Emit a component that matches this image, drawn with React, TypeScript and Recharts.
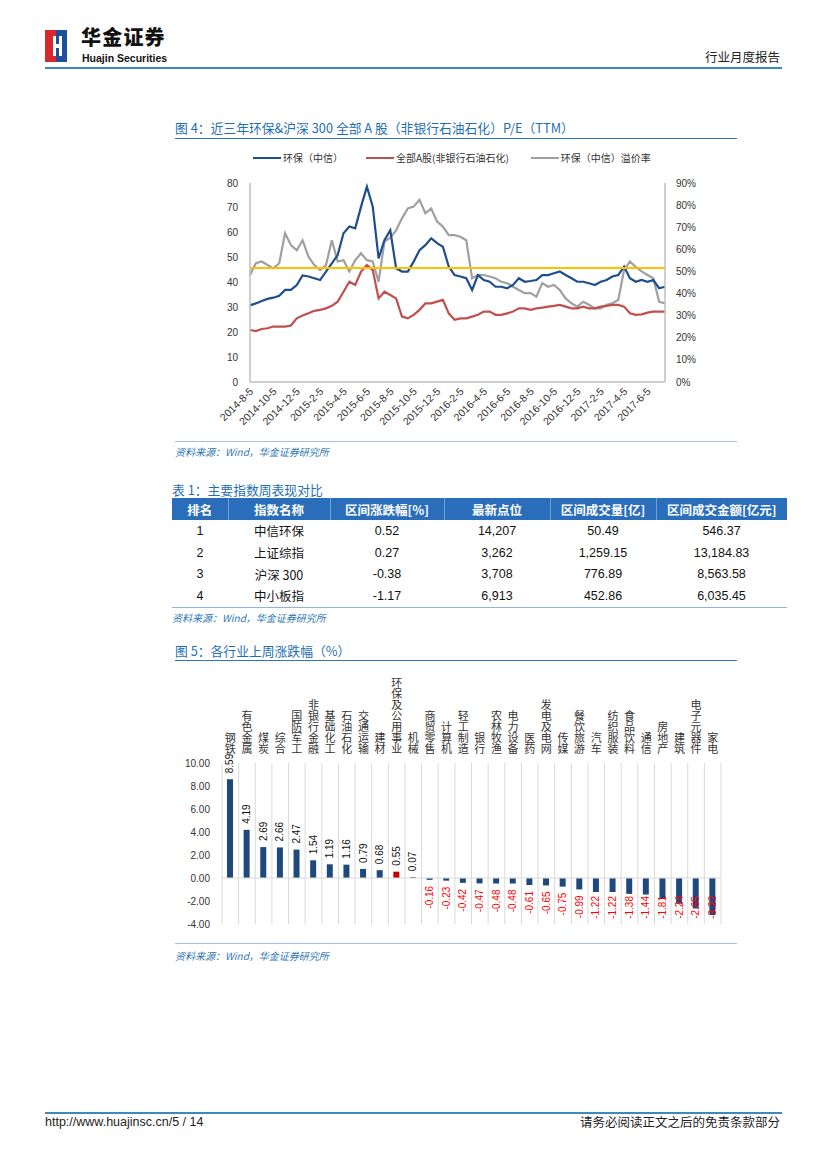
import React from 'react';
import {
  LineChart,
  Line,
  XAxis,
  YAxis,
  ReferenceLine,
  BarChart,
  Bar,
  Cell,
  CartesianGrid,
  LabelList,
} from 'recharts';

const FONT = '"Liberation Sans", "Noto Sans CJK SC", sans-serif';
const CJK = '"Noto Sans CJK SC", "Liberation Sans", sans-serif';

// ---- Figure 4: P/E (TTM), semi-monthly samples from 2014-8-5 ----
const peTickLabels = [
  '2014-8-5', '2014-10-5', '2014-12-5', '2015-2-5', '2015-4-5', '2015-6-5',
  '2015-8-5', '2015-10-5', '2015-12-5', '2016-2-5', '2016-4-5', '2016-6-5',
  '2016-8-5', '2016-10-5', '2016-12-5', '2017-2-5', '2017-4-5', '2017-6-5',
];

// 环保（中信）
const peEnv = [
  30.8, 31.6, 32.6, 33.4, 33.9, 34.7, 37.0, 37.0, 39.0, 42.8,
  42.4, 41.7, 41.0, 44.4, 47.7, 51.0, 59.8, 62.5, 61.8, 70.5,
  78.5, 70.5, 49.7, 57.0, 61.0, 45.7, 44.4, 44.4, 48.4, 53.0,
  55.0, 57.8, 55.8, 54.4, 46.4, 43.0, 42.4, 41.7, 37.0, 43.0,
  41.0, 40.3, 38.3, 38.3, 37.7, 39.0, 41.7, 40.3, 40.6, 41.0,
  43.0, 43.0, 43.7, 44.4, 43.0, 41.7, 40.3, 40.3, 39.7, 39.0,
  40.3, 41.0, 42.4, 43.0, 46.4, 41.7, 40.3, 41.0, 40.3, 41.0,
  37.7, 38.3,
];

// 全部A股(非银行石油石化)
const peAll = [
  20.9, 20.5, 21.3, 21.6, 22.3, 22.3, 22.3, 22.7, 25.6, 26.7,
  27.6, 28.6, 29.0, 29.6, 30.6, 32.3, 36.3, 40.3, 39.0, 44.4,
  47.0, 45.0, 33.6, 36.3, 35.0, 33.6, 26.3, 25.6, 27.0, 29.0,
  31.6, 31.6, 32.3, 33.0, 27.6, 25.0, 25.6, 25.6, 26.3, 27.0,
  28.3, 28.3, 27.0, 27.0, 27.6, 28.3, 29.6, 29.6, 29.0, 29.6,
  29.9, 30.3, 30.6, 31.0, 30.3, 29.6, 29.6, 30.3, 29.6, 29.6,
  30.3, 30.6, 31.0, 31.0, 30.3, 27.6, 27.0, 27.2, 27.9, 28.3,
  28.3, 28.3,
];

// 环保（中信）溢价率, %
const pePremium = [
  48.4, 53.7, 54.5, 52.9, 51.4, 53.7, 67.3, 61.9, 59.6, 64.1,
  56.7, 52.9, 50.6, 52.9, 64.1, 54.5, 55.1, 50.0, 55.1, 58.2,
  55.1, 54.5, 45.3, 63.5, 65.3, 68.6, 74.0, 78.5, 79.3, 82.4,
  76.3, 78.5, 72.6, 70.3, 66.4, 66.4, 65.7, 64.1, 46.9, 48.4,
  48.4, 47.7, 46.9, 45.3, 44.7, 43.1, 41.6, 40.2, 40.2, 38.6,
  44.7, 43.1, 43.9, 41.6, 37.8, 35.6, 34.1, 36.3, 34.9, 33.3,
  33.3, 34.9, 35.6, 37.1, 50.6, 54.5, 52.0, 50.0, 48.4, 46.9,
  36.3, 35.6,
];

const premiumAvg = 51.6;
const peLeftTicks = [0, 10, 20, 30, 40, 50, 60, 70, 80];
const peRightTicks = [0, 10, 20, 30, 40, 50, 60, 70, 80, 90];

const peSeries = [
  { key: 'env', name: '环保（中信）', color: '#1F4E8C' },
  { key: 'all', name: '全部A股(非银行石油石化)', color: '#C0504D' },
  { key: 'prem', name: '环保（中信）溢价率', color: '#A0A0A0' },
];

// ---- Table 1 ----
const tblHeads = ['排名', '指数名称', '区间涨跌幅[%]', '最新点位', '区间成交量[亿]', '区间成交金额[亿元]'];
const tblRanks = ['1', '2', '3', '4'];
const tblNames = ['中信环保', '上证综指', '沪深 300', '中小板指'];
const tblChg = ['0.52', '0.27', '-0.38', '-1.17'];
const tblLast = ['14,207', '3,262', '3,708', '6,913'];
const tblVol = ['50.49', '1,259.15', '776.89', '452.86'];
const tblAmt = ['546.37', '13,184.83', '8,563.58', '6,035.45'];
const tblColW = [56, 102, 114, 106, 106, 131];

// ---- Figure 5: weekly change by industry ----
const industries = [
  '钢铁', '有色金属', '煤炭', '综合', '国防军工', '非银行金融', '基础化工', '石油石化',
  '交通运输', '建材', '环保及公用事业', '机械', '商贸零售', '计算机', '轻工制造', '银行',
  '农林牧渔', '电力设备', '医药', '发电及电网', '传媒', '餐饮旅游', '汽车', '纺织服装',
  '食品饮料', '通信', '房地产', '建筑', '电子元器件', '家电',
];
const industryChg = [
  8.59, 4.19, 2.69, 2.66, 2.47, 1.54, 1.19, 1.16, 0.79, 0.68,
  0.55, 0.07, -0.16, -0.23, -0.42, -0.47, -0.48, -0.48, -0.61, -0.65,
  -0.75, -0.99, -1.22, -1.22, -1.38, -1.44, -1.81, -2.24, -2.65, -3.22,
];
const highlightIndustry = '环保及公用事业';
const chgTicks = [-4, -2, 0, 2, 4, 6, 8, 10];

// chart boxes (page coordinates)
const LC = { left: 200, top: 175, w: 520, h: 280 };
const BC = { left: 160, top: 660, w: 571, h: 274, mb: 10 };

const peData = peEnv.map((v, i) => ({ i, env: v, all: peAll[i], prem: pePremium[i] }));
const chgData = industries.map((name, i) => ({ name, v: industryChg[i] }));

const DateTick = (props: any) => {
  const { x, y, payload } = props;
  const label = peTickLabels[payload.value / 4];
  if (!label) return null;
  const ax = x + 4;
  const ay = y + 2;
  return (
    <text x={ax} y={ay} transform={`rotate(-45 ${ax} ${ay})`} textAnchor="end" fontSize={10.5} fill="#333" fontFamily={FONT}>
      {label}
    </text>
  );
};

// stacked (vertical) category names above the plot
const IndustryTick = (props: any) => {
  const { x, y, payload } = props;
  return (
    <text
      x={x}
      y={y - 9}
      textAnchor="end"
      fontSize={11}
      fill="#333"
      fontFamily={CJK}
      style={{ writingMode: 'vertical-rl' } as React.CSSProperties}
    >
      {payload.value}
    </text>
  );
};

const ValueLabel = (props: any) => {
  const { x, y, width, height, value } = props;
  const top = Math.min(y, y + height);
  const bottom = Math.max(y, y + height);
  const txt = Number(value).toFixed(2);
  const cx = x + width / 2 + 3.5;
  const plotBottom = BC.h - BC.mb;
  let ay: number;
  let anchor: 'start' | 'end';
  if (value >= 0) {
    ay = top - 6;
    anchor = 'start';
  } else {
    ay = Math.min(bottom + 6, plotBottom - 3 - txt.length * 5);
    anchor = 'end';
  }
  return (
    <text
      x={cx}
      y={ay}
      transform={`rotate(-90 ${cx} ${ay})`}
      textAnchor={anchor}
      fontSize={10}
      fill={value >= 0 ? '#111' : '#FF0000'}
      fontFamily={FONT}
    >
      {txt}
    </text>
  );
};

const abs = (left: number, top: number, extra: React.CSSProperties = {}): React.CSSProperties => ({
  position: 'absolute',
  left,
  top,
  ...extra,
});

const rule = (left: number, top: number, width: number, color: string, h = 1) => (
  <div style={abs(left, top, { width, height: h, background: color })} />
);

const Title = ({ left, top, children }: { left: number; top: number; children: React.ReactNode }) => (
  <div style={abs(left, top, { fontFamily: CJK, fontSize: 12.8, color: '#1F6FB5', whiteSpace: 'nowrap', lineHeight: '15px' })}>
    {children}
  </div>
);

const Source = ({ left, top }: { left: number; top: number }) => (
  <div style={abs(left, top, { fontFamily: CJK, fontSize: 10, fontStyle: 'italic', color: '#2E75B6', whiteSpace: 'nowrap', lineHeight: '12px' })}>
    资料来源：Wind，华金证券研究所
  </div>
);

export default function App() {
  const tblRows = tblRanks.map((r, i) => [r, tblNames[i], tblChg[i], tblLast[i], tblVol[i], tblAmt[i]]);

  return (
    <div style={{ position: 'absolute', left: 0, top: 0, width: 827, height: 1169, background: '#fff', fontFamily: FONT, overflow: 'hidden' }}>
      {/* header */}
      <svg style={abs(45, 30)} width={22} height={32}>
        <rect x={0} y={0} width={11} height={32} fill="#D7282F" />
        <rect x={11} y={0} width={11} height={32} fill="#1D4F9C" />
        <path d="M8 6 L11 6 L11 14 L14 14 L14 6 L17 6 L17 26 L14 26 L14 18 L11 18 L11 26 L8 26 Z" fill="#fff" />
      </svg>
      <div style={abs(81, 26, { fontFamily: CJK, fontWeight: 900, fontSize: 20, lineHeight: '22px', color: '#111', letterSpacing: 1.2 })}>华金证券</div>
      <div style={abs(82, 53, { fontFamily: FONT, fontWeight: 700, fontSize: 10.5, lineHeight: '11px', color: '#111' })}>Huajin Securities</div>
      <div style={abs(705, 49, { fontFamily: CJK, fontSize: 12.5, lineHeight: '16px', color: '#222' })}>行业月度报告</div>
      {rule(45, 67, 737, '#3C88C0', 2)}

      {/* figure 4 */}
      <Title left={175} top={120}>图 4：近三年环保&amp;沪深 300 全部 A 股（非银行石油石化）P/E（TTM）</Title>
      {rule(175, 138, 562, '#2F75B5')}
      <div style={abs(253, 151, { display: 'flex', alignItems: 'center', fontFamily: CJK, fontSize: 10, color: '#333', whiteSpace: 'nowrap', lineHeight: '14px' })}>
        {peSeries.map((s, k) => (
          <div key={s.key} style={{ display: 'flex', alignItems: 'center', marginRight: k === 0 ? 23 : 22 }}>
            <div style={{ width: 28, height: 2.5, background: s.color, marginRight: 2 }} />
            <span>{s.name}</span>
          </div>
        ))}
      </div>
      <div style={abs(LC.left, LC.top)}>
        <LineChart width={LC.w} height={LC.h} data={peData} margin={{ top: 8, right: 10, bottom: 13, left: 10 }}>
          <XAxis
            dataKey="i"
            interval={3}
            height={60}
            tick={<DateTick />}
            tickLine={false}
            axisLine={{ stroke: '#BFBFBF', strokeWidth: 1.5 }}
          />
          <YAxis
            yAxisId="left"
            domain={[0, 80]}
            ticks={peLeftTicks}
            width={40}
            tickLine={false}
            tickMargin={6}
            axisLine={{ stroke: '#BFBFBF', strokeWidth: 1.5 }}
            tick={{ fontSize: 10, fill: '#333', fontFamily: FONT }}
          />
          <YAxis
            yAxisId="right"
            orientation="right"
            domain={[0, 90]}
            ticks={peRightTicks}
            width={45}
            tickLine={false}
            tickMargin={5}
            axisLine={{ stroke: '#BFBFBF', strokeWidth: 1.5 }}
            tickFormatter={(v) => `${v}%`}
            tick={{ fontSize: 10, fill: '#333', fontFamily: FONT }}
          />
          <Line yAxisId="right" dataKey="prem" stroke="#A0A0A0" strokeWidth={2.2} dot={false} isAnimationActive={false} />
          <Line yAxisId="left" dataKey="all" stroke="#C0504D" strokeWidth={2.2} dot={false} isAnimationActive={false} />
          <Line yAxisId="left" dataKey="env" stroke="#1F4E8C" strokeWidth={2.2} dot={false} isAnimationActive={false} />
          <ReferenceLine yAxisId="right" y={premiumAvg} stroke="#FFC000" strokeWidth={2} />
        </LineChart>
      </div>
      {rule(175, 441, 562, '#9DC3E6')}
      <Source left={175} top={446} />

      {/* table 1 */}
      <Title left={172} top={482}>表 1：主要指数周表现对比</Title>
      <table
        style={abs(172, 498, {
          width: 615,
          borderCollapse: 'collapse',
          tableLayout: 'fixed',
          fontFamily: FONT,
          fontSize: 12.5,
          color: '#111',
        })}
      >
        <colgroup>
          {tblColW.map((w, k) => (
            <col key={k} style={{ width: w }} />
          ))}
        </colgroup>
        <thead>
          <tr style={{ background: '#2A6EBB', color: '#fff', height: 22 }}>
            {tblHeads.map((h, k) => (
              <th
                key={h}
                style={{
                  padding: 0,
                  fontFamily: CJK,
                  fontWeight: 700,
                  fontSize: 12.5,
                  textAlign: 'center',
                  borderRight: k < tblHeads.length - 1 ? '1px solid rgba(255,255,255,0.35)' : 'none',
                }}
              >
                {h}
              </th>
            ))}
          </tr>
        </thead>
        <tbody>
          {tblRows.map((row, r) => (
            <tr key={r} style={{ height: 21.7 }}>
              {row.map((c, k) => (
                <td key={k} style={{ padding: 0, textAlign: 'center', fontFamily: k === 1 ? CJK : FONT }}>
                  {c}
                </td>
              ))}
            </tr>
          ))}
        </tbody>
      </table>
      {rule(172, 607, 615, '#8DB4E2')}
      <Source left={172} top={612} />

      {/* figure 5 */}
      <Title left={175} top={643}>图 5：各行业上周涨跌幅（%）</Title>
      {rule(175, 660, 562, '#2F75B5')}
      <div style={abs(BC.left, BC.top)}>
        <BarChart width={BC.w} height={BC.h} data={chgData} margin={{ top: 8, right: 10, bottom: BC.mb, left: 10 }}>
          <CartesianGrid
            horizontal={false}
            stroke="#D9D9D9"
            verticalCoordinatesGenerator={({ offset }: any) =>
              Array.from({ length: industries.length + 1 }, (_, k) => offset.left + (k * offset.width) / industries.length)
            }
          />
          <XAxis
            dataKey="name"
            orientation="top"
            height={95}
            interval={0}
            tickSize={0}
            tickMargin={0}
            axisLine={false}
            tick={<IndustryTick />}
          />
          <YAxis
            domain={[-4, 10]}
            ticks={chgTicks}
            width={52}
            tickSize={0}
            tickMargin={12}
            axisLine={false}
            tickLine={false}
            tickFormatter={(v) => Number(v).toFixed(2)}
            tick={{ fontSize: 10, fill: '#333', fontFamily: FONT }}
          />
          <ReferenceLine y={0} stroke="#D9D9D9" strokeWidth={1.2} />
          <Bar dataKey="v" barSize={6} isAnimationActive={false}>
            {chgData.map((d) => (
              <Cell key={d.name} fill={d.name === highlightIndustry ? '#C00000' : '#1F497D'} />
            ))}
            <LabelList dataKey="v" content={<ValueLabel />} />
          </Bar>
        </BarChart>
      </div>
      {rule(175, 943, 562, '#9DC3E6')}
      <Source left={175} top={950} />

      {/* footer */}
      {rule(45, 1112, 737, '#3C88C0', 2)}
      <div style={abs(45, 1115, { fontFamily: FONT, fontSize: 12.5, lineHeight: '15px', color: '#222' })}>http://www.huajinsc.cn/5 / 14</div>
      <div style={abs(580, 1114, { width: 200, textAlign: 'right', fontFamily: CJK, fontSize: 12.5, lineHeight: '16px', color: '#222' })}>
        请务必阅读正文之后的免责条款部分
      </div>
    </div>
  );
}
